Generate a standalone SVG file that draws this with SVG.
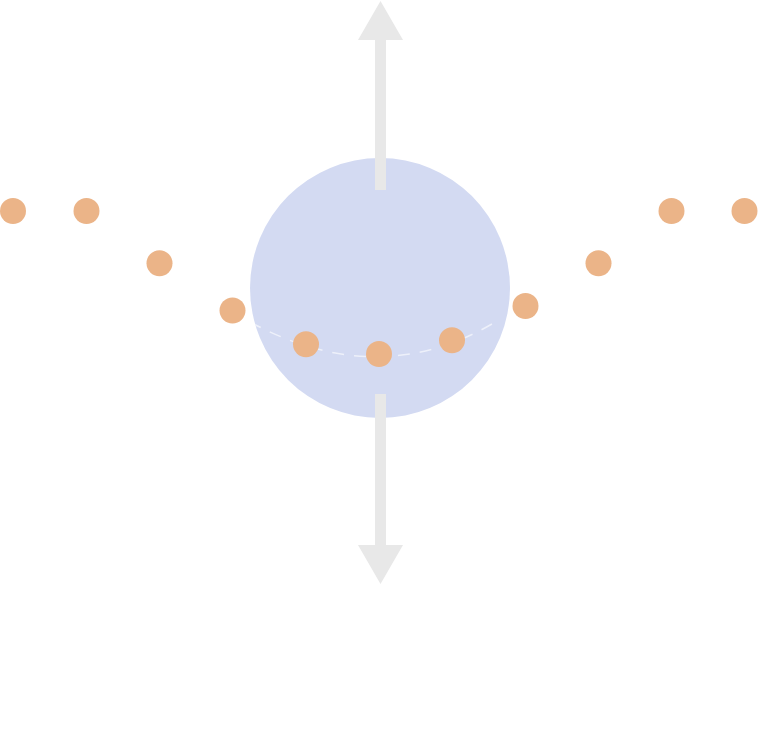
<svg xmlns="http://www.w3.org/2000/svg" width="759" height="750" viewBox="0 0 759 750">
<style>
.dot{fill:#ebb488}
.arrow{fill:#e8e8e8}
</style>
<defs>
<clipPath id="cc"><circle cx="380" cy="288" r="130"/></clipPath>
</defs>
<rect width="759" height="750" fill="#ffffff"/>
<g id="sphere">
<circle cx="380" cy="288" r="130" fill="#d3daf2"/>
<path d="M250,322 Q380,392 497,321" fill="none" stroke="#ffffff" stroke-opacity="0.6" stroke-width="1.5" stroke-dasharray="12 10" clip-path="url(#cc)"/>
</g>
<g id="connectors">
<path class="arrow" d="M375,190 L375,40 L358,40 L380.5,1 L403,40 L386,40 L386,190 Z"/>
<path class="arrow" d="M375,394 L375,545 L358,545 L380.5,584 L403,545 L386,545 L386,394 Z"/>
</g>
<g id="dots">
<circle class="dot" cx="13" cy="211" r="13"/>
<circle class="dot" cx="86.5" cy="211" r="13"/>
<circle class="dot" cx="159.5" cy="263.3" r="13"/>
<circle class="dot" cx="232.5" cy="310.5" r="13"/>
<circle class="dot" cx="306" cy="344.3" r="13"/>
<circle class="dot" cx="379" cy="354" r="13"/>
<circle class="dot" cx="452" cy="340.3" r="13"/>
<circle class="dot" cx="525.5" cy="306" r="13"/>
<circle class="dot" cx="598.5" cy="263.3" r="13"/>
<circle class="dot" cx="671.5" cy="211" r="13"/>
<circle class="dot" cx="744.5" cy="211" r="13"/>
</g>
</svg>
